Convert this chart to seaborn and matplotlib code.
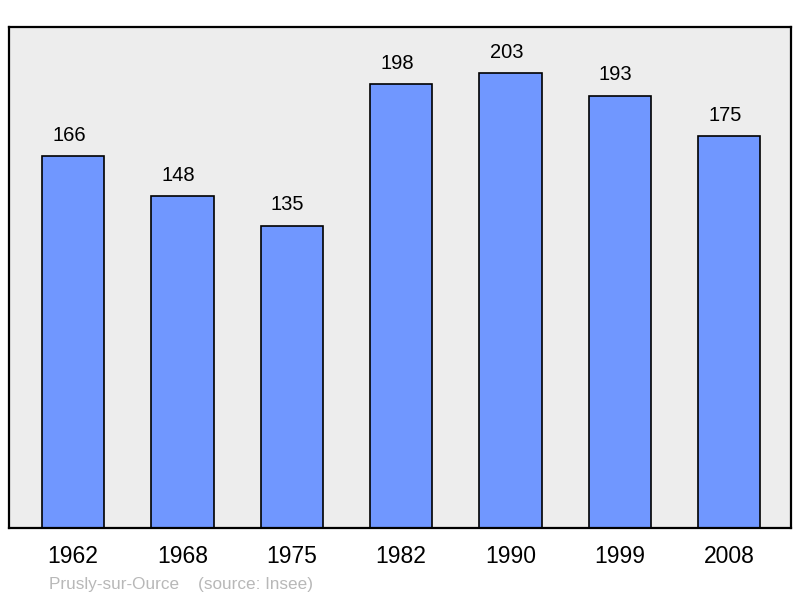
import matplotlib
matplotlib.use("Agg")
import matplotlib.pyplot as plt
import seaborn as sns
import pandas as pd

years = ["1962", "1968", "1975", "1982", "1990", "1999", "2008"]
population = [166, 148, 135, 198, 203, 193, 175]
footer = "Prusly-sur-Ource    (source: Insee)"

df = pd.DataFrame({"year": years, "pop": population})

sns.set_theme(style="white")
plt.rcParams["font.family"] = ["Liberation Sans", "DejaVu Sans"]

fig = plt.figure(figsize=(8.0, 5.98), dpi=100)
ax = fig.add_axes([9 / 800, 1 - 528 / 598, 782 / 800, 501 / 598])
ax.set_facecolor("#ededed")

sns.barplot(data=df, x="year", y="pop", color="#7097ff", saturation=1,
            width=0.57, edgecolor="black", linewidth=1.2, ax=ax)

ax.set_xlim(-0.585, 6.565)
ax.set_ylim(0, 223.6)
for c in ax.containers:
    texts = ax.bar_label(c, labels=[str(v) for v in population], padding=8,
                         fontsize=14.5, color="black")
    for t in texts:
        x0, y0 = t.xyann
        t.xyann = (x0 - 3, y0)

ax.set_xlabel("")
ax.set_ylabel("")
ax.set_yticks([])
ax.tick_params(axis="x", length=0, pad=12.5, labelsize=16.5, colors="black")
for s in ax.spines.values():
    s.set_visible(True)
    s.set_color("black")
    s.set_linewidth(1.6)

fig.text(49 / 800, 1 - 584 / 598, footer, fontsize=12.3, color="#b8b8b8",
         va="center", ha="left")

fig.savefig("out.png", dpi=100, facecolor="white")
